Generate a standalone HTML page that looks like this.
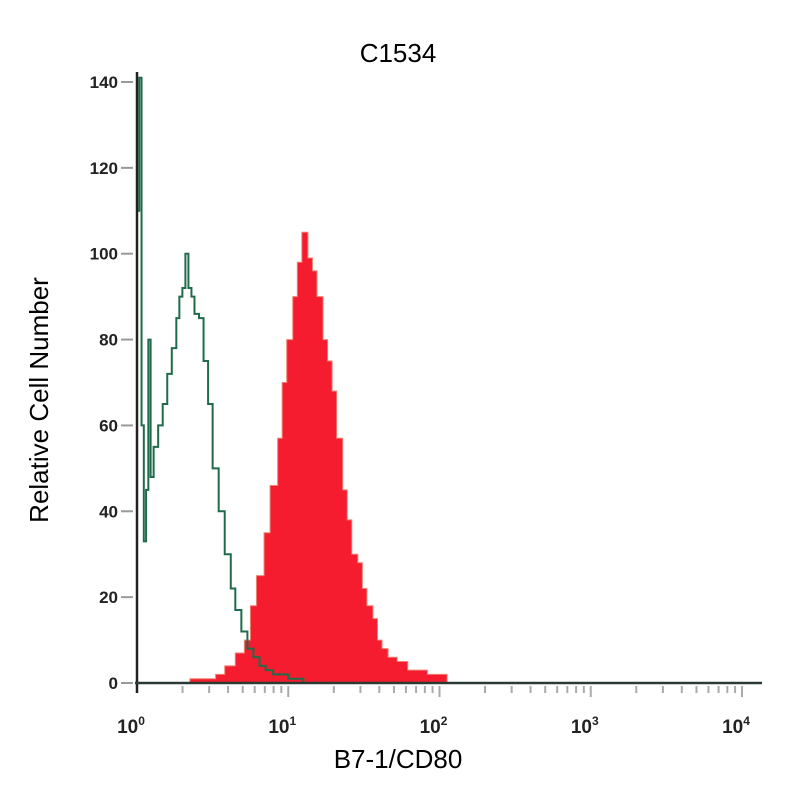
<!DOCTYPE html>
<html><head><meta charset="utf-8"><style>
body{margin:0;background:#fff}
svg{display:block;font-family:"Liberation Sans",sans-serif}
</style></head><body>
<svg id="chart" width="800" height="800" viewBox="0 0 800 800">
<text x="398" y="62" font-size="26" text-anchor="middle">C1534</text>
<text x="398" y="768" font-size="26" text-anchor="middle">B7-1/CD80</text>
<text transform="translate(48,400) rotate(-90)" font-size="26" text-anchor="middle">Relative Cell Number</text>
<g id="plot"></g>
</svg>
<script>
const yTicks=[0,20,40,60,80,100,120,140];
const xDecades=[0,1,2,3,4];
const redLog=[0.35,0.42,0.52,0.58,0.65,0.71,0.75,0.79,0.84,0.88,0.93,0.96,0.99,1.03,1.06,1.09,1.13,1.16,1.19,1.23,1.26,1.29,1.32,1.36,1.39,1.42,1.46,1.49,1.52,1.56,1.59,1.62,1.66,1.72,1.79,1.92,2.05];
const redVal=[1,1,2,4,7,10,18,25,35,46,57,70,80,90,98,105,99,96,90,80,75,68,57,45,38,30,28,22,18,15,10,8,6,5,3,2,0];
const greenLog=[0.0,0.015,0.03,0.045,0.06,0.075,0.09,0.11,0.14,0.17,0.2,0.23,0.26,0.28,0.3,0.32,0.34,0.36,0.38,0.41,0.44,0.47,0.5,0.54,0.58,0.62,0.65,0.69,0.73,0.77,0.81,0.85,0.9,1.0,1.1];
const greenVal=[110,141,60,33,45,80,48,55,60,65,72,78,85,90,92,100,92,90,86,85,75,65,50,40,30,22,17,12,8,6,4,3,2,1,0];
const X0=137,DEC=151.25,Y0=683,YS=601/140;
const xs=l=>X0+l*DEC, ys=v=>Y0-v*YS;
const NS='http://www.w3.org/2000/svg';
const g=document.getElementById('plot');
function mk(t,a){const e=document.createElementNS(NS,t);for(const k in a)e.setAttribute(k,a[k]);g.appendChild(e);return e;}
// red filled histogram (step)
let d='M'+xs(redLog[0])+','+Y0;
for(let i=0;i<redLog.length;i++){const x2=i<redLog.length-1?xs(redLog[i+1]):xs(redLog[i])+4;d+=' L'+xs(redLog[i])+','+ys(redVal[i])+' L'+x2+','+ys(redVal[i]);}
d+=' L'+xs(redLog[redLog.length-1])+','+Y0+' Z';
const red=mk('path',{d:d,fill:'#f41c2e',stroke:'#f08070','stroke-width':'1'});


// green outline
let gd='M'+xs(greenLog[0])+','+Y0;
for(let i=0;i<greenLog.length;i++){const x2=i<greenLog.length-1?xs(greenLog[i+1]):xs(greenLog[i])+4;gd+=' L'+xs(greenLog[i])+','+ys(greenVal[i])+' L'+x2+','+ys(greenVal[i]);}
const gr=mk('path',{d:gd,fill:'none',stroke:'#1f6b4a','stroke-width':'2'});


// axes
const ya=mk('line',{x1:X0,y1:72,x2:X0,y2:Y0+10,stroke:'#222','stroke-width':'2.5'});


const xa=mk('line',{x1:X0-2,y1:Y0,x2:762,y2:Y0,stroke:'#2a3a34','stroke-width':'2.5'});


yTicks.forEach(v=>{
 const t=mk('line',{x1:X0-16,y1:ys(v),x2:X0-4,y2:ys(v),stroke:'#999','stroke-width':'2'});
 
 
 const l=mk('text',{x:X0-19,y:ys(v)+6,'font-size':'17','font-weight':'bold','text-anchor':'end',fill:'#222'});
 l.textContent=v;
 
 
});
xDecades.forEach(p=>{
 const x=xs(p);
 const l=mk('text',{x:x-6,y:Y0+50,'font-size':'19','font-weight':'bold','text-anchor':'middle',fill:'#222'});
 l.textContent='10';
 const s=document.createElementNS(NS,'tspan');s.setAttribute('dy','-8');s.setAttribute('font-size','12');s.textContent=p;l.appendChild(s);
 
 
 if(p<4){for(let k=2;k<=10;k++){const xx=xs(p+Math.log10(k));const t=mk('line',{x1:xx,y1:Y0+3,x2:xx,y2:Y0+(k==10?14:10),stroke:'#aaa','stroke-width':'2'});
  
  }}
});
</script>
</body></html>
